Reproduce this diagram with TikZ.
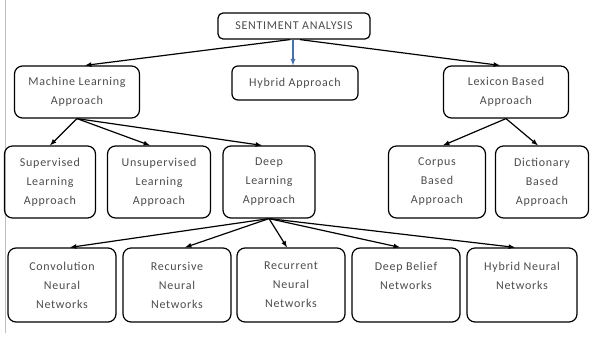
\documentclass[tikz,border=0pt]{standalone}
\usepackage{fontspec}
\setmainfont[LetterSpace=6]{Carlito}
\usetikzlibrary{arrows}
\definecolor{arrowblue}{RGB}{68,114,176}

\begin{document}
\begin{tikzpicture}
	[x=1pt, y=-1pt, line width=1.2pt, >=latex,
	main/.style = {draw, rounded corners=8pt, align=center, text=black!70, inner sep=0pt, font=\fontsize{12}{19}\selectfont},
	top/.style = {main, minimum width=125pt, minimum height=52pt},
	mid/.style = {main, minimum height=72pt},
	low/.style = {main, minimum width=108pt, minimum height=74pt}]
	\useasboundingbox (0,0) rectangle (590,337);
	\draw[black!25, line width=1pt] (5,0) -- (5,333);
	\node[main, minimum width=152pt, minimum height=26pt, rounded corners=5pt] (sa) at (294,26) {SENTIMENT ANALYSIS};
	\node[main, minimum width=126pt, minimum height=34pt, rounded corners=6pt] (hyb) at (295,83) {Hybrid Approach};
	\node[top] (ml) at (77,92) {Machine Learning\\Approach};
	\node[top] (lex) [right of = ml, node distance=429pt] {Lexicon Based\\Approach};
	\node[mid, minimum width=91pt] (sup) at (50,182) {Supervised\\Learning\\Approach};
	\node[mid, minimum width=103pt] (uns) [right of = sup, node distance=109pt] {Unsupervised\\Learning\\Approach};
	\node[mid, minimum width=92pt] (dl) [right of = uns, node distance=110pt] {Deep\\Learning\\Approach};
	\node[mid, minimum width=97pt] (cor) at (437,182) {Corpus\\Based\\Approach};
	\node[mid, minimum width=93pt] (dic) [right of = cor, node distance=105pt] {Dictionary\\Based\\Approach};
	\node[low] (cnn) at (62,285) {Convolution\\Neural\\Networks};
	\node[low] (rec) [right of = cnn, node distance=115pt] {Recursive\\Neural\\Networks};
	\node[low] (rnn) [right of = rec, node distance=114pt] {Recurrent\\Neural\\Networks};
	\node[low] (dbn) [right of = rnn, node distance=115pt] {Deep Belief\\Networks\\\mbox{}};
	\node[low, minimum width=110pt] (hnn) [right of = dbn, node distance=116pt] {Hybrid Neural\\Networks\\\mbox{}};
	\draw[->] ([xshift=-4pt]sa.south) -- ([xshift=8pt]ml.north);
	\draw[->, arrowblue] ([xshift=-1pt]sa.south) -- ([xshift=-2pt]hyb.north);
	\draw[->] ([xshift=6pt]sa.south) -- ([xshift=-6pt]lex.north);
	\draw[->] (ml.south) -- (sup.north);
	\draw[->] (ml.south) -- ([xshift=-9pt]uns.north);
	\draw[->] (ml.south) -- ([xshift=-7pt]dl.north);
	\draw[->] (lex.south) -- ([xshift=6pt]cor.north);
	\draw[->] (lex.south) -- ([xshift=-4pt]dic.north);
	\draw[->] (dl.south) -- ([xshift=8pt]cnn.north);
	\draw[->] (dl.south) -- ([xshift=8pt]rec.north);
	\draw[->] (dl.south) -- ([xshift=-4pt]rnn.north);
	\draw[->] (dl.south) -- ([xshift=-6pt]dbn.north);
	\draw[->] (dl.south) -- ([xshift=-7pt]hnn.north);
\end{tikzpicture}
\end{document}
